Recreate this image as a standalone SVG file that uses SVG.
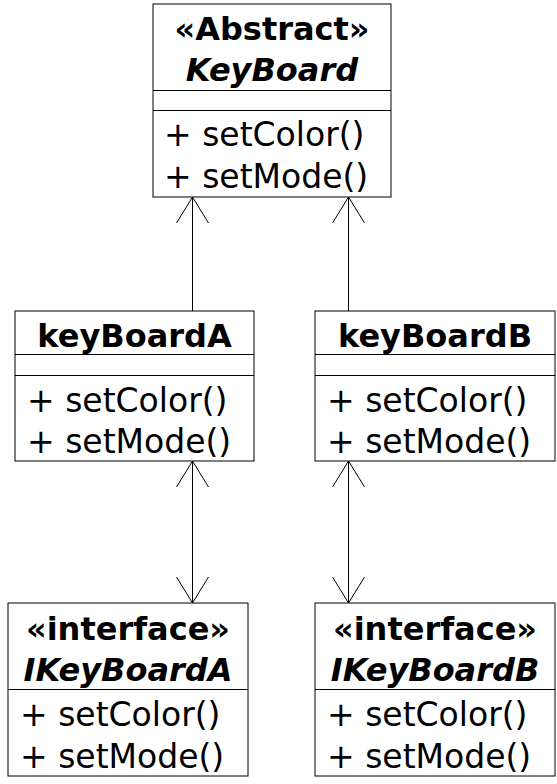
<svg xmlns="http://www.w3.org/2000/svg" width="557" height="784" viewBox="0 0 557 784">
<style>
.box{fill:#fff;stroke:#000;stroke-width:1}
.div{stroke:#000;stroke-width:1}
.t{font-family:"DejaVu Sans",sans-serif;font-size:32px;font-weight:bold;text-anchor:middle;fill:#000}
.ti{font-family:"DejaVu Sans",sans-serif;font-size:32px;font-weight:bold;font-style:italic;text-anchor:middle;fill:#000}
.m{font-family:"DejaVu Sans",sans-serif;font-size:33px;fill:#000}
.c{stroke:#000;stroke-width:1;fill:none}
</style>
<defs>
<marker id="open" viewBox="-30 -20 34 40" refX="0" refY="0" markerWidth="34" markerHeight="40" markerUnits="userSpaceOnUse" orient="auto-start-reverse">
<path d="M-26,-16 L0,0 L-26,16" fill="none" stroke="#000" stroke-width="1"/>
</marker>
</defs>
<g id="connectors">
<line class="c" x1="192.5" y1="311" x2="192.5" y2="197" marker-end="url(#open)"/>
<line class="c" x1="348.5" y1="311" x2="348.5" y2="197" marker-end="url(#open)"/>
<line class="c" x1="192.5" y1="461" x2="192.5" y2="603" marker-start="url(#open)" marker-end="url(#open)"/>
<line class="c" x1="348.5" y1="461" x2="348.5" y2="603" marker-start="url(#open)" marker-end="url(#open)"/>
</g>
<g id="KeyBoard">
<rect class="box" x="153" y="4" width="238" height="193"/>
<line class="div" x1="153" y1="90.5" x2="391" y2="90.5"/>
<line class="div" x1="153" y1="110.5" x2="391" y2="110.5"/>
<text class="t" x="272" y="40">«Abstract»</text>
<text class="ti" x="272" y="81">KeyBoard</text>
<text class="m" x="164" y="146">+ setColor()</text>
<text class="m" x="164" y="187.5">+ setMode()</text>
</g>
<g id="keyBoardA">
<rect class="box" x="15" y="311" width="239" height="150"/>
<line class="div" x1="15" y1="354.5" x2="254" y2="354.5"/>
<line class="div" x1="15" y1="375.5" x2="254" y2="375.5"/>
<text class="t" x="134.5" y="346.5">keyBoardA</text>
<text class="m" x="27" y="411.5">+ setColor()</text>
<text class="m" x="27" y="453">+ setMode()</text>
</g>
<g id="keyBoardB">
<rect class="box" x="315" y="311" width="240" height="150"/>
<line class="div" x1="315" y1="354.5" x2="555" y2="354.5"/>
<line class="div" x1="315" y1="375.5" x2="555" y2="375.5"/>
<text class="t" x="435" y="346.5">keyBoardB</text>
<text class="m" x="327" y="411.5">+ setColor()</text>
<text class="m" x="327" y="453">+ setMode()</text>
</g>
<g id="IKeyBoardA">
<rect class="box" x="8" y="603" width="240" height="173"/>
<line class="div" x1="8" y1="689.5" x2="248" y2="689.5"/>
<text class="t" x="128" y="639.5">«interface»</text>
<text class="ti" x="128" y="681">IKeyBoardA</text>
<text class="m" x="20" y="726">+ setColor()</text>
<text class="m" x="20" y="767.5">+ setMode()</text>
</g>
<g id="IKeyBoardB">
<rect class="box" x="315" y="603" width="240" height="173"/>
<line class="div" x1="315" y1="689.5" x2="555" y2="689.5"/>
<text class="t" x="435" y="639.5">«interface»</text>
<text class="ti" x="435" y="681">IKeyBoardB</text>
<text class="m" x="327" y="726">+ setColor()</text>
<text class="m" x="327" y="767.5">+ setMode()</text>
</g>
</svg>
